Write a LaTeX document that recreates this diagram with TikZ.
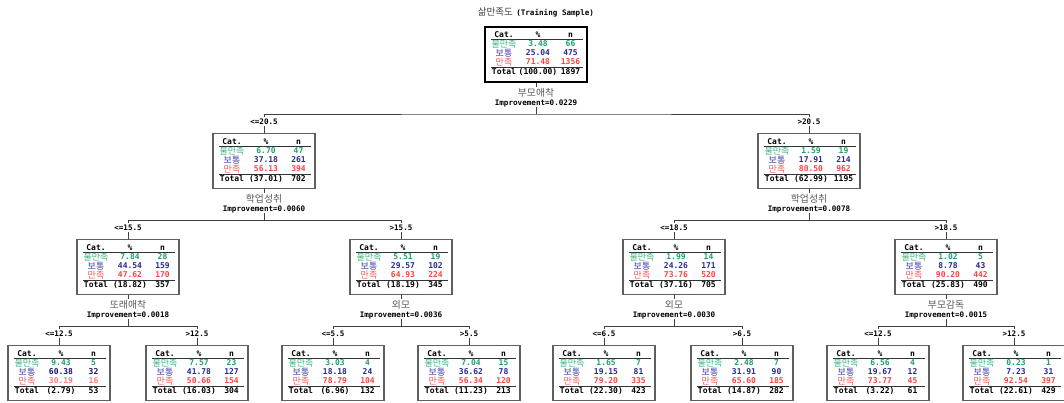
\documentclass[tikz,border=0pt]{standalone}
\usepackage{fontspec}
\newfontfamily\kr{Noto Sans CJK KR}
\newfontfamily\mono{DejaVu Sans Mono}
\definecolor{grnlbl}{RGB}{60,180,125}
\definecolor{grnval}{RGB}{30,160,105}
\definecolor{blulbl}{RGB}{60,60,175}
\definecolor{bluval}{RGB}{40,40,145}
\definecolor{bludark}{RGB}{20,20,110}
\definecolor{redlbl}{RGB}{255,85,85}
\definecolor{redval}{RGB}{255,65,65}
\definecolor{redlight}{RGB}{255,120,120}
\definecolor{boxline}{RGB}{95,95,95}

\tikzset{
  treebox/.style={draw=boxline, line width=1.2pt, minimum width=102pt,
    minimum height=55pt, inner sep=0pt, anchor=north},
  mtext/.style={font=\mono\bfseries\fontsize{7.6}{8}\selectfont, inner sep=0pt,
    text height=5.5pt, text depth=0pt},
  ttext/.style={mtext, font=\mono\bfseries\fontsize{8}{8}\selectfont},
  ktext/.style={font=\kr\fontsize{9}{9}\selectfont, inner sep=0pt,
    text height=7.1pt, text depth=0.6pt},
  v1/.style={text=grnval}, v2/.style={text=bluval}, v3/.style={text=redval},
  hrule/.style={draw=black!80, line width=0.9pt},
  conn/.style={draw=black!75, line width=0.8pt},
  varname/.style={font=\kr\fontsize{9.8}{10}\selectfont, text=black!65,
    fill=white, inner xsep=2pt, inner ysep=1pt},
  impr/.style={mtext, fill=white, inner xsep=2pt, inner ysep=1.5pt},
  cutlbl/.style={mtext, fill=white, inner xsep=2pt, inner ysep=2pt},
}

% frequency table node: name, position, p1/n1/p2/n2/p3/n3, total %, total n, options
\newcommand{\catbox}[6]{%
  \begin{scope}[#6]
  \node[treebox] (#1) at (#2) {};
  \begin{scope}[shift={(#1.north)}]
    \node[ttext] (#1-hc) at (-32,9) {Cat.};
    \node[ttext] (#1-hp) at (2,9) {\%};
    \node[ttext] (#1-hn) at (34.5,9) {n};
    \draw[hrule] (-45,13.5) -- (47,13.5);
    \node[ktext,text=grnlbl] (#1-c1) at (-32,18) {불만족};
    \node[ktext,text=blulbl] (#1-c2) at (-32,27) {보통};
    \node[ktext,text=redlbl] (#1-c3) at (-32,36) {만족};
    \catrows{#1}#3\relax
    \draw[hrule] (-45,41) -- (47,41);
    \node[ttext] (#1-tc) at (-32,45.5) {Total};
    \node[ttext] (#1-tp) at (2,45.5) {(#4)};
    \node[ttext] (#1-tn) at (34.5,45.5) {#5};
  \end{scope}
  \end{scope}}
\def\catrows#1#2/#3/#4/#5/#6/#7\relax{%
  \node[ttext,v1] (#1-p1) at (2,18) {#2};
  \node[ttext,v1] (#1-n1) at (34.5,18) {#3};
  \node[ttext,v2] (#1-p2) at (2,27) {#4};
  \node[ttext,v2] (#1-n2) at (34.5,27) {#5};
  \node[ttext,v3] (#1-p3) at (2,36) {#6};
  \node[ttext,v3] (#1-n3) at (34.5,36) {#7};}

% split: parent, left child, right child, variable, improvement, left cut, right cut
\newcommand{\treesplit}[7]{%
  \coordinate (#1-j) at ([yshift=-31pt]#1.south);
  \draw[conn] (#1.south) -- (#1-j);
  \draw[conn] (#2.north) |- (#1-j) -| (#3.north);
  \node[varname] (#1-var) at ([yshift=-9.5pt]#1.south) {#4};
  \node[impr] (#1-imp) at ([yshift=-19.5pt]#1.south) {Improvement=#5};
  \node[cutlbl] (#2-lbl) at ([yshift=11.5pt]#2.north) {#6};
  \node[cutlbl] (#3-lbl) at ([yshift=11.5pt]#3.north) {#7};}

\begin{document}
\begin{tikzpicture}[x=1pt,y=-1pt]
\useasboundingbox (0,0) rectangle (1064,403);

\node[inner sep=0pt] (title) at (536,12)
  {{\kr\fontsize{9.5}{10}\selectfont\color{black!75}삶만족도} {\mono\bfseries\fontsize{7.6}{8}\selectfont(Training Sample)}};

\catbox{root}{536,26}{3.48/66/25.04/475/71.48/1356}{100.00}{1897}
  {treebox/.append style={draw=black,line width=2pt}}

\catbox{a}{264,133}{6.70/47/37.18/261/56.13/394}{37.01}{702}{}
\catbox{b}{809,133}{1.59/19/17.91/214/80.50/962}{62.99}{1195}{}

\catbox{aa}{128,239}{7.84/28/44.54/159/47.62/170}{18.82}{357}{}
\catbox{ab}{401,239}{5.51/19/29.57/102/64.93/224}{18.19}{345}{}
\catbox{ba}{674,239}{1.99/14/24.26/171/73.76/520}{37.16}{705}{}
\catbox{bb}{946,239}{1.02/5/8.78/43/90.20/442}{25.83}{490}{}

\catbox{aaa}{59,345}{9.43/5/60.38/32/30.19/16}{2.79}{53}
  {v2/.style={text=bludark}, v3/.style={text=redlight}}
\catbox{aab}{197,345}{7.57/23/41.78/127/50.66/154}{16.03}{304}{}
\catbox{aba}{333,345}{3.03/4/18.18/24/78.79/104}{6.96}{132}{}
\catbox{abb}{469,345}{7.04/15/36.62/78/56.34/120}{11.23}{213}{}
\catbox{baa}{604,345}{1.65/7/19.15/81/79.20/335}{22.30}{423}{}
\catbox{bab}{742,345}{2.48/7/31.91/90/65.60/185}{14.87}{282}{}
\catbox{bba}{878,345}{6.56/4/19.67/12/73.77/45}{3.22}{61}{}
\catbox{bbb}{1014,345}{0.23/1/7.23/31/92.54/397}{22.61}{429}{}

\treesplit{root}{a}{b}{부모애착}{0.0229}{<=20.5}{>20.5}
\treesplit{a}{aa}{ab}{학업성취}{0.0060}{<=15.5}{>15.5}
\treesplit{b}{ba}{bb}{학업성취}{0.0078}{<=18.5}{>18.5}
\treesplit{aa}{aaa}{aab}{또래애착}{0.0018}{<=12.5}{>12.5}
\treesplit{ab}{aba}{abb}{외모}{0.0036}{<=5.5}{>5.5}
\treesplit{ba}{baa}{bab}{외모}{0.0030}{<=6.5}{>6.5}
\treesplit{bb}{bba}{bbb}{부모감독}{0.0015}{<=12.5}{>12.5}
\end{tikzpicture}
\end{document}
